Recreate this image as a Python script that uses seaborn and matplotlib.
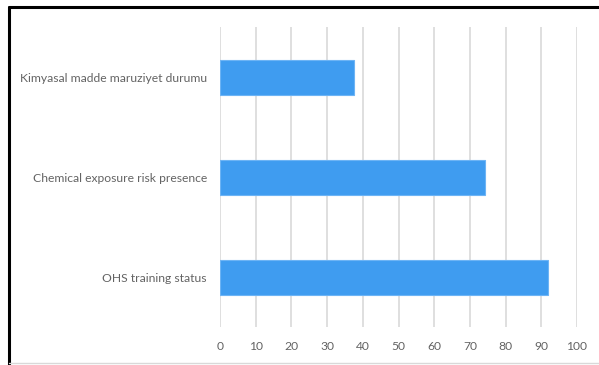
import matplotlib
matplotlib.use("Agg")
import matplotlib.pyplot as plt
from matplotlib.lines import Line2D
import seaborn as sns
import pandas as pd

categories = ["Kimyasal madde maruziyet durumu",
              "Chemical exposure risk presence",
              "OHS training status"]
values = [37.5, 74.2, 92.0]
ticks = [0, 10, 20, 30, 40, 50, 60, 70, 80, 90, 100]

sns.set_theme(style="white")
plt.rcParams["font.family"] = ["Lato", "DejaVu Sans"]

df = pd.DataFrame({"category": categories, "value": values})

fig = plt.figure(figsize=(5.99, 3.65), dpi=100)
ax = fig.add_axes([220 / 599, (365 - 327) / 365, 357 / 599, 300 / 365])

sns.barplot(data=df, x="value", y="category", orient="h", ax=ax,
            color="#3F9CF0", saturation=1, width=0.35,
            edgecolor="#6DB4F5", linewidth=0.8)

ax.set_xlim(0, 100)
ax.set_ylim(2.5, -0.5)
ax.set_xticks(ticks)
ax.set_xticklabels([str(t) for t in ticks])
ax.xaxis.grid(True, color="#D9D9D9", linewidth=1.2)
ax.set_axisbelow(True)
for s in ax.spines.values():
    s.set_visible(False)
ax.set_xlabel("")
ax.set_ylabel("")
ax.tick_params(axis="both", length=0, labelsize=8.7, labelcolor="#636363")
ax.tick_params(axis="x", pad=10)
ax.tick_params(axis="y", pad=9.5)

# outer frame
fig.add_artist(Line2D([9 / 599, 9 / 599], [0, 1 - 7 / 365], color="black",
                      linewidth=2.2, transform=fig.transFigure))
fig.add_artist(Line2D([9 / 599, 1], [1 - 7 / 365, 1 - 7 / 365], color="black",
                      linewidth=2.2, transform=fig.transFigure))
fig.add_artist(Line2D([9 / 599, 1], [2 / 365, 2 / 365], color="#D9D9D9",
                      linewidth=1.0, transform=fig.transFigure))

fig.savefig("out.png", dpi=100)
